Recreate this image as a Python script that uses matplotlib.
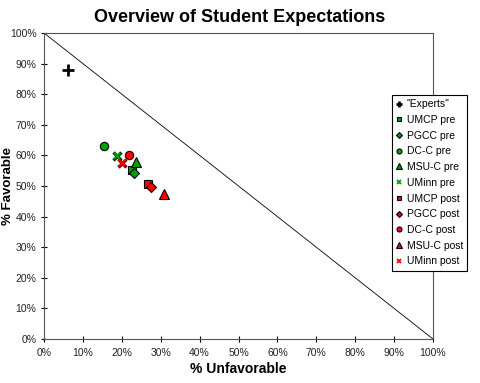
import matplotlib
matplotlib.use("Agg")
import matplotlib.pyplot as plt
from matplotlib.ticker import FuncFormatter, MultipleLocator

plt.rcParams['font.family'] = ['Liberation Sans', 'DejaVu Sans']

labels = ['"Experts"', 'UMCP pre', 'PGCC pre', 'DC-C pre', 'MSU-C pre', 'UMinn pre',
          'UMCP post', 'PGCC post', 'DC-C post', 'MSU-C post', 'UMinn post']
unfav = [6.2, 22.5, 23.1, 15.4, 23.6, 18.7, 26.7, 27.4, 21.9, 30.8, 20.1]
fav = [87.9, 55.2, 54.3, 63.1, 57.9, 59.9, 50.7, 49.6, 60.1, 47.4, 57.6]
markers = ['+', 's', 'D', 'o', '^', 'x', 's', 'D', 'o', '^', 'x']
colors = ['black', '#00a000', '#00a000', '#00a000', '#00a000', '#00a000',
          '#ff0000', '#ff0000', '#ff0000', '#ff0000', '#ff0000']
sizes = [8, 6, 5, 6, 7, 5, 6, 5, 6, 7, 5]

fig = plt.figure(figsize=(4.8, 3.83), dpi=100)
ax = fig.add_axes([44/480, 1-339/383, (433-44)/480, (339-33)/383])

ax.plot([0, 100], [100, 0], color='black', lw=0.6, zorder=1)

for lab, x, y, m, c, s in zip(labels, unfav, fav, markers, colors, sizes):
    if m in ('+', 'x'):
        if c == 'black':
            ax.plot([x], [y], marker=m, color=c, ms=s, mew=2, ls='none', label=lab, zorder=3)
        else:
            ax.plot([x], [y], marker=m, color='#004000' if c != '#ff0000' else '#800000',
                    ms=s+1, mew=2.4, ls='none', zorder=2)
            ax.plot([x], [y], marker=m, color=c, ms=s, mew=1.3, ls='none', label=lab, zorder=3)
    else:
        ax.plot([x], [y], marker=m, mfc=c, mec='black', mew=0.8, ms=s, ls='none',
                label=lab, zorder=3)

ax.set_xlim(0, 100)
ax.set_ylim(0, 100)
ax.xaxis.set_major_locator(MultipleLocator(10))
ax.yaxis.set_major_locator(MultipleLocator(10))
fmt = FuncFormatter(lambda v, p: f"{int(round(v))}%")
ax.xaxis.set_major_formatter(fmt)
ax.yaxis.set_major_formatter(fmt)
ax.tick_params(direction='inout', length=5, width=0.8, labelsize=7.5, colors='black',
               labelcolor='#222222', pad=4)
ax.tick_params(axis='y', pad=3)
for sp in ax.spines.values():
    sp.set_color('#555555')
    sp.set_linewidth(0.8)

ax.set_xlabel('% Unfavorable', fontsize=10, fontweight='bold', labelpad=3)
fig.text(8/480, 1-186/383, '% Favorable', rotation=90, ha='center', va='center',
         fontsize=9.5, fontweight='bold')
fig.text(0.5, 1-18/383, 'Overview of Student Expectations', ha='center', va='center',
         fontsize=13, fontweight='bold')

leg = fig.legend(loc='upper left', bbox_to_anchor=(392/480, 1-95/383), fontsize=7.5,
                 frameon=True, fancybox=False, edgecolor='black', handlelength=0.6,
                 handletextpad=0.4, borderpad=0.4, labelspacing=0.55, markerscale=0.6,
                 borderaxespad=0, framealpha=1)
leg.get_frame().set_linewidth(0.8)

fig.savefig('out.png', dpi=100, facecolor='white')
